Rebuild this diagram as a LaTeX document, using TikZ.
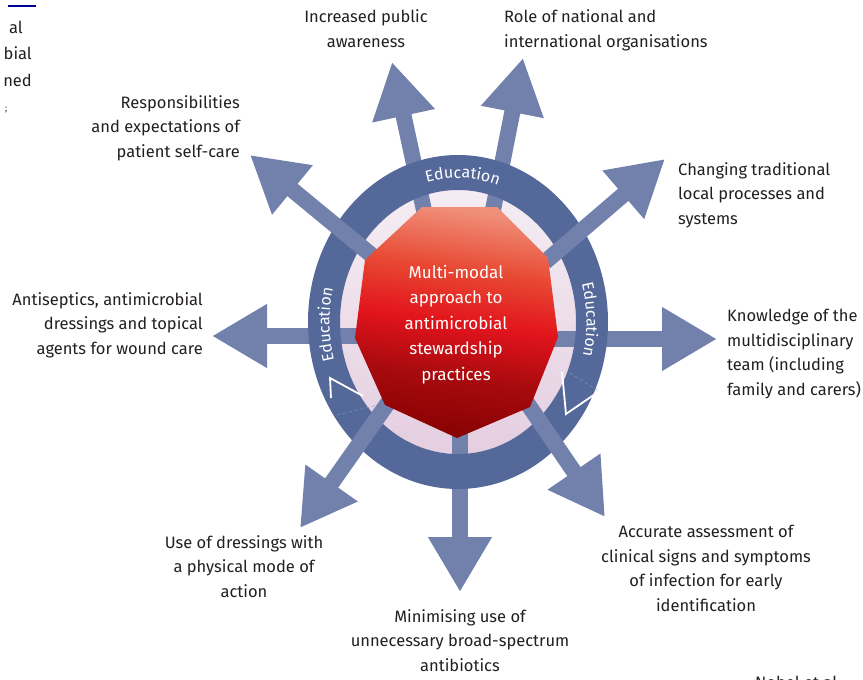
\documentclass[tikz,border=0pt]{standalone}
\usepackage{fontspec}
\setmainfont{Fira Sans}
\usetikzlibrary{arrows.meta,decorations.text}
\definecolor{ringblue}{HTML}{54699A}
\definecolor{arrowblue}{HTML}{7181AC}
\definecolor{pinkring}{HTML}{E4CEE0}
\definecolor{pinklight}{HTML}{F5EDF3}
\definecolor{redtop}{HTML}{F0907A}
\definecolor{redtopb}{HTML}{E84A34}
\definecolor{redmid}{HTML}{E2141C}
\definecolor{redlow}{HTML}{A80A0E}
\definecolor{redbot}{HTML}{880202}
\definecolor{txt}{HTML}{231F20}
\pgfdeclareverticalshading{polyshade}{100bp}{color(0bp)=(redbot); color(25bp)=(redbot); color(38bp)=(redlow); color(50bp)=(redmid); color(62bp)=(redtopb); color(75bp)=(redtop); color(100bp)=(redtop)}
\newcommand\edufont{\color{white}\fontsize{16}{18}\selectfont}
\begin{document}
\begin{tikzpicture}[x=1pt,y=-1pt,
  arr/.style={draw=arrowblue, line width=16pt, -{Triangle[length=55pt,width=60pt]}},
  lbl/.style={inner sep=0pt, font=\fontsize{16.5}{24.5}\selectfont, text=txt},
  edu/.style={decorate, decoration={text along path, text={|\edufont|Education}, text align=center}}
]
\useasboundingbox (0,0) rectangle (863,680);
\clip (0,0) rectangle (863,680);

\coordinate (c) at (458,322);
% arrow start / tip coordinates
\coordinate (s1) at (425,215); \coordinate (t1) at (392,62);
\coordinate (s2) at (492,215); \coordinate (t2) at (523,58);
\coordinate (s3) at (545,262); \coordinate (t3) at (665,159);
\coordinate (s4) at (550,339); \coordinate (t4) at (717,339);
\coordinate (s5) at (525,400); \coordinate (t5) at (605,517);
\coordinate (s6) at (460,430); \coordinate (t6) at (460,592);
\coordinate (s7) at (390,400); \coordinate (t7) at (300,528);
\coordinate (s8) at (365,336); \coordinate (t8) at (212,336);
\coordinate (s9) at (375,258); \coordinate (t9) at (250,155);

% pink inner disk
\shade[top color=pinklight, bottom color=pinkring] (c) ellipse [x radius=118pt, y radius=132pt];

% arrows passing under the ring
\draw[arr] (s1) -- (t1);
\draw[arr] (s2) -- (t2);
\draw[arr] (s4) -- (t4);
\draw[arr] (s6) -- (t6);
\draw[arr] (s8) -- (t8);

% blue ring
\fill[ringblue, even odd rule] (c) ellipse [x radius=150pt, y radius=167pt]
  (c) ellipse [x radius=118pt, y radius=132pt];

% arrows crossing over the ring
\draw[arr] (s3) -- (t3);
\draw[arr] (s5) -- (t5);
\draw[arr] (s7) -- (t7);
\draw[arr] (s9) -- (t9);

% white arrowhead marks on the ring
\draw[white, line width=1.8pt, line join=miter] (331,398) -- (330,378) -- (363,396);
\draw[white, line width=1.8pt, line join=miter] (562,372) -- (566,414) -- (598,392);
\draw[ringblue!70!white, line width=0.5pt, dashed] (337,415) -- (378,405);
\draw[ringblue!70!white, line width=0.5pt, dashed] (570,373) -- (597,390);

% central polygon
\shade[shading=polyshade, shading angle=-8]
  (422,207) -- (497,207) -- (548,258) -- (558,337) -- (530,407) -- (457,438)
  -- (385,405) -- (355,338) -- (365,260) -- cycle;
\node[inner sep=0pt, text=white, align=center, font=\fontsize{17}{25.5}\selectfont, anchor=base]
  (centre) at (456,380) {Multi-modal\\approach to\\antimicrobial\\stewardship\\practices};

% Education labels
\path[edu] (c) ++(121:128.5pt and 144pt) arc[start angle=121, end angle=55, x radius=128.5pt, y radius=144pt];
\path[edu] (c) ++(215:128.5pt and 144pt) arc[start angle=215, end angle=147, x radius=128.5pt, y radius=144pt];
\path[edu] (c) ++(35:128.5pt and 144pt) arc[start angle=35, end angle=-33, x radius=128.5pt, y radius=144pt];

% outer labels (anchored at the baseline of the last line)
\node[lbl, align=center, anchor=base] (l1) at (366,47) {Increased public\\awareness};
\node[lbl, align=left, anchor=base west] (l2) at (504,47) {Role of national and\\international organisations};
\node[lbl, align=right, anchor=base east] (l9) at (240,157) {Responsibilities\\and expectations of\\patient self-care};
\node[lbl, align=left, anchor=base west] (l3) at (678,224) {Changing traditional\\local processes and\\systems};
\node[lbl, align=right, anchor=base east] (l8) at (203,354) {Antiseptics, antimicrobial\\dressings and topical\\agents for wound care};
\node[lbl, align=left, anchor=base west] (l4) at (727,395) {Knowledge of the\\multidisciplinary\\team (including\\family and carers)};
\node[lbl, align=center, anchor=base] (l5) at (706,611) {Accurate assessment of\\clinical signs and symptoms\\of infection for early\\identification};
\node[lbl, align=center, anchor=base] (l7) at (244,597) {Use of dressings with\\a physical mode of\\action};
\node[lbl, align=center, anchor=base] (l6) at (460,671) {Minimising use of\\unnecessary broad-spectrum\\antibiotics};

% cut-off fragments at the edges
\draw[blue!60!black, line width=1.5pt] (8,6) -- (36,6);
\node[lbl, anchor=base east] (fa) at (23,33) {al};
\node[lbl, anchor=base east] (fb) at (32,59) {bial};
\node[lbl, anchor=base east] (fc) at (32,86) {ned};
\node[lbl, anchor=base west, font=\fontsize{9}{9}\selectfont] (fd) at (5,111) {;};
\node[lbl, anchor=north west] (cite) at (755,676) {Nobel et al.};
\end{tikzpicture}
\end{document}
